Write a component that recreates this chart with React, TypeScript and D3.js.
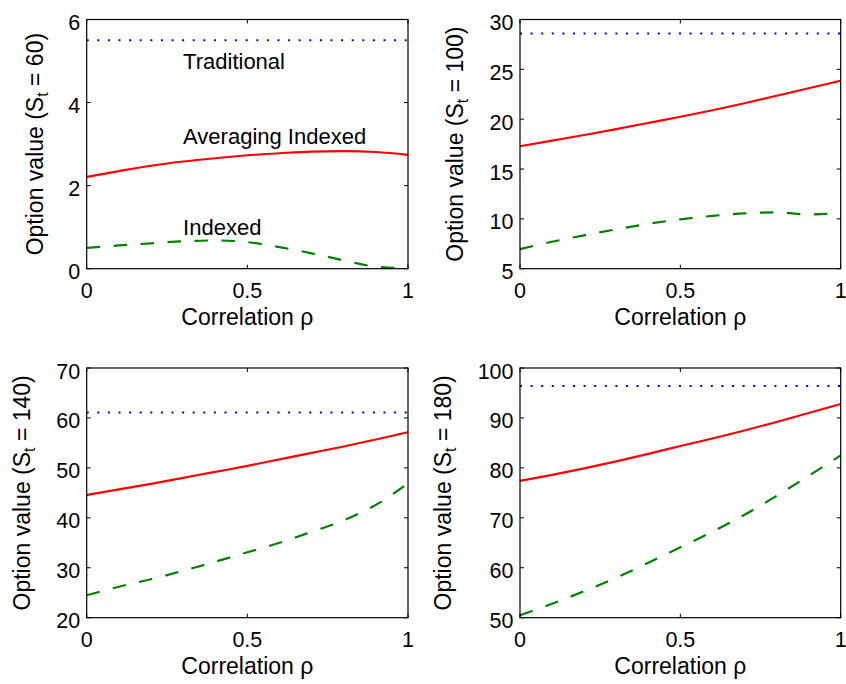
import React from 'react';
import * as d3 from 'd3';

const rho = [0, 0.1, 0.2, 0.3, 0.4, 0.5, 0.6, 0.7, 0.8, 0.9, 1.0];
const stockPrices = ['60', '100', '140', '180'];
const traditional = [5.5, 28.6, 61.1, 96.4];
const averaging60 = [2.21, 2.35, 2.48, 2.58, 2.66, 2.73, 2.78, 2.82, 2.83, 2.81, 2.74];
const indexed60 = [0.5, 0.56, 0.61, 0.66, 0.68, 0.64, 0.52, 0.37, 0.2, 0.05, 0.01];
const averaging100 = [17.28, 17.85, 18.42, 19.0, 19.62, 20.25, 20.9, 21.6, 22.35, 23.1, 23.86];
const indexed100 = [6.97, 7.7, 8.35, 8.95, 9.5, 9.95, 10.3, 10.55, 10.65, 10.45, 10.58];
const averaging140 = [44.57, 45.7, 46.8, 48.0, 49.2, 50.4, 51.7, 53.0, 54.3, 55.7, 57.13];
const indexed140 = [24.5, 26.2, 27.7, 29.4, 31.2, 33.1, 35.0, 37.2, 39.5, 42.6, 46.9];
const averaging180 = [77.4, 78.6, 79.9, 81.3, 82.8, 84.4, 85.9, 87.5, 89.2, 91.0, 92.8];
const indexed180 = [50.5, 52.8, 55.3, 58.0, 61.0, 64.1, 67.2, 70.6, 74.4, 78.4, 82.5];
const averagingSeries = [averaging60, averaging100, averaging140, averaging180];
const indexedSeries = [indexed60, indexed100, indexed140, indexed180];
const yDomains: [number, number][] = [[0, 6], [5, 30], [20, 70], [50, 100]];
const yTickValues = [
  [0, 2, 4, 6],
  [5, 10, 15, 20, 25, 30],
  [20, 30, 40, 50, 60, 70],
  [50, 60, 70, 80, 90, 100],
];
const xTickValues = [0, 0.5, 1];
const xTickLabels = ['0', '0.5', '1'];
const annotations = [
  { label: 'Traditional', x: 0.3, y: 5.0 },
  { label: 'Averaging Indexed', x: 0.3, y: 3.2 },
  { label: 'Indexed', x: 0.3, y: 1.0 },
];

const FONT = '"Liberation Sans", Arial, Helvetica, sans-serif';
const colLeft = [86.7, 520];
const colRight = [408, 840.7];
const rowTop = [19.5, 368];
const rowBottom = [268.7, 617.7];

function Panel({ idx }: { idx: number }) {
  const col = idx % 2;
  const row = Math.floor(idx / 2);
  const x = d3.scaleLinear().domain([0, 1]).range([colLeft[col], colRight[col]]);
  const y = d3.scaleLinear().domain(yDomains[idx]).range([rowBottom[row], rowTop[row]]);
  const line = d3
    .line<number>()
    .x((_, i) => x(rho[i]))
    .y((d) => y(d))
    .curve(d3.curveMonotoneX);
  const [x0, x1] = x.range();
  const [yb, yt] = y.range();
  const maxDigits = d3.max(yTickValues[idx], (t) => String(t).length) || 1;
  const labelX = x0 - (31 + 12.8 * maxDigits);
  const cy = (yb + yt) / 2;
  const cx = (x0 + x1) / 2;
  const tickLen = 4;
  return (
    <g>
      <rect x={x0} y={yt} width={x1 - x0} height={yb - yt} fill="#fff" />
      <line x1={x0} x2={x1} y1={y(traditional[idx])} y2={y(traditional[idx])} stroke="#0000ff" strokeWidth={2} strokeDasharray="2 8.6" />
      <path d={line(averagingSeries[idx]) || ''} fill="none" stroke="#ff0000" strokeWidth={2.1} />
      <path d={line(indexedSeries[idx]) || ''} fill="none" stroke="#008000" strokeWidth={2.2} strokeDasharray="13.5 13.5" />
      {idx === 0 &&
        annotations.map((a) => (
          <text key={a.label} x={x(a.x)} y={y(a.y)} dy="0.36em" fontSize={22} fontFamily={FONT} fill="#000">
            {a.label}
          </text>
        ))}
      <rect x={x0} y={yt} width={x1 - x0} height={yb - yt} fill="none" stroke="#000" strokeWidth={1.2} />
      {xTickValues.map((t, i) => (
        <g key={'x' + t}>
          <line x1={x(t)} x2={x(t)} y1={yb} y2={yb - tickLen} stroke="#000" strokeWidth={1} />
          <line x1={x(t)} x2={x(t)} y1={yt} y2={yt + tickLen} stroke="#000" strokeWidth={1} />
          <text x={x(t)} y={yb + 29} textAnchor="middle" fontSize={21.5} fontFamily={FONT}>
            {xTickLabels[i]}
          </text>
        </g>
      ))}
      {yTickValues[idx].map((t) => (
        <g key={'y' + t}>
          <line x1={x0} x2={x0 + tickLen} y1={y(t)} y2={y(t)} stroke="#000" strokeWidth={1} />
          <line x1={x1} x2={x1 - tickLen} y1={y(t)} y2={y(t)} stroke="#000" strokeWidth={1} />
          <text x={x0 - 6.5} y={y(t) + 10.5} textAnchor="end" fontSize={21.5} fontFamily={FONT}>
            {t}
          </text>
        </g>
      ))}
      <text x={cx} y={yb + 56.5} textAnchor="middle" fontSize={23} fontFamily={FONT}>
        Correlation ρ
      </text>
      <text transform={`translate(${labelX},${cy}) rotate(-90)`} textAnchor="middle" fontSize={23} fontFamily={FONT}>
        <tspan>Option value (S</tspan>
        <tspan fontSize={16} dy={5}>t</tspan>
        <tspan dy={-5}>{` = ${stockPrices[idx]})`}</tspan>
      </text>
    </g>
  );
}

export default function App() {
  return (
    <svg width={846} height={684} style={{ position: 'absolute', left: 0, top: 0, background: '#fff' }}>
      <rect width={846} height={684} fill="#fff" />
      {[0, 1, 2, 3].map((i) => (
        <Panel key={i} idx={i} />
      ))}
    </svg>
  );
}
